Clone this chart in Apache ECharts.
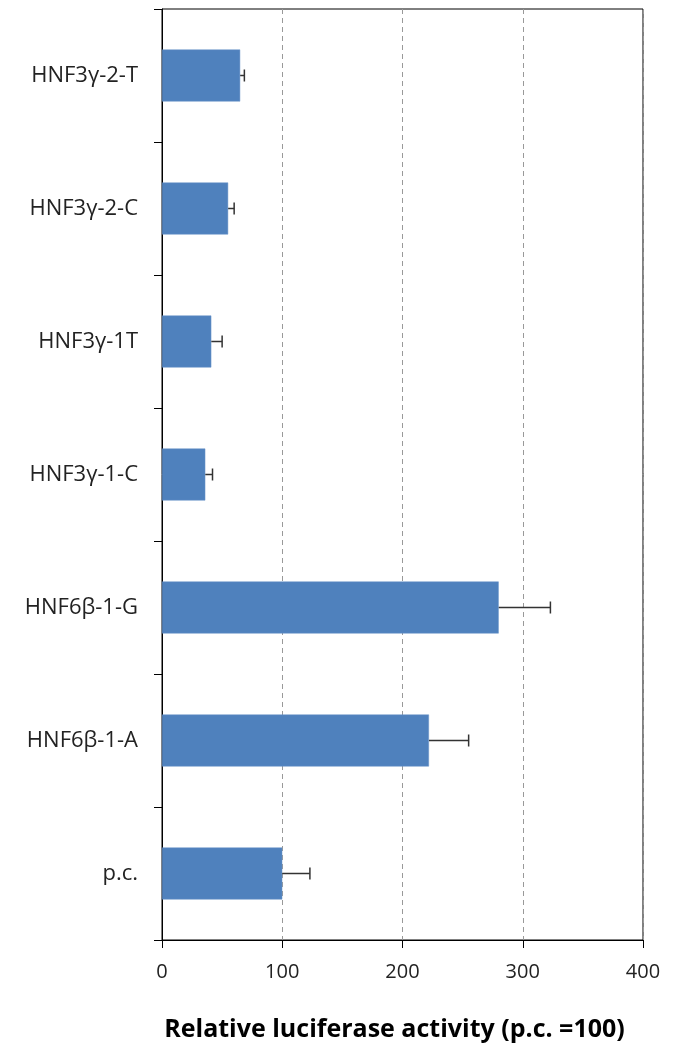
<!DOCTYPE html>
<html>
<head>
<meta charset="utf-8">
<script src="https://cdn.jsdelivr.net/npm/echarts@6/dist/echarts.min.js"></script>
<style>
  html, body { margin: 0; padding: 0; background: #fff; }
  #chart { width: 678px; height: 1044px; }
</style>
</head>
<body>
<div id="chart"></div>
<script>
// categories listed bottom to top
var categories = ['p.c.', 'HNF6β-1-A', 'HNF6β-1-G', 'HNF3γ-1-C', 'HNF3γ-1T', 'HNF3γ-2-C', 'HNF3γ-2-T'];
var activity = [100, 222, 280, 36, 41, 55, 65];
var errors = [23, 33, 43, 6, 9, 5, 3.5];
var xTicks = [0, 100, 200, 300, 400];

var chart = echarts.init(document.getElementById('chart'));

var errorData = activity.map(function (v, i) {
    return [i, v, v + errors[i]];
});

var option = {
    animation: false,
    grid: {
        left: 162,
        right: 35,
        top: 9,
        bottom: 104,
        outerBoundsMode: 'none',
        show: true,
        borderColor: '#000',
        borderWidth: 1
    },
    xAxis: {
        type: 'value',
        min: xTicks[0],
        max: xTicks[xTicks.length - 1],
        interval: 100,
        name: 'Relative luciferase activity (p.c. =100)',
        nameLocation: 'middle',
        nameGap: 77,
        nameTextStyle: {
            fontFamily: 'Open Sans',
            fontWeight: 'bold',
            fontSize: 25,
            color: '#000',
            padding: [0, 16, 0, 0]
        },
        axisLine: { show: true, lineStyle: { color: '#000', width: 1 } },
        axisTick: { show: true, length: 8, lineStyle: { color: '#000' } },
        axisLabel: {
            margin: 22,
            fontFamily: 'Open Sans',
            fontSize: 20,
            color: '#222'
        },
        splitLine: {
            show: true,
            lineStyle: { color: '#999', type: [5, 4], width: 1 }
        }
    },
    yAxis: {
        type: 'category',
        data: categories,
        axisLine: { show: true, lineStyle: { color: '#000', width: 1 } },
        axisTick: { show: true, length: 8, lineStyle: { color: '#000' } },
        axisLabel: {
            margin: 24,
            fontFamily: 'Open Sans',
            fontSize: 22,
            color: '#222'
        },
        splitLine: { show: false }
    },
    series: [
        {
            type: 'bar',
            data: activity,
            barWidth: 52,
            itemStyle: { color: '#4F81BD', borderColor: '#6B95C8', borderWidth: 0.5 }
        },
        {
            type: 'custom',
            data: errorData,
            z: 5,
            renderItem: function (params, api) {
                var cat = api.value(0);
                var start = api.coord([api.value(1), cat]);
                var end = api.coord([api.value(2), cat]);
                var cap = 6;
                var style = { stroke: '#333', lineWidth: 1.5 };
                return {
                    type: 'group',
                    children: [
                        { type: 'line', shape: { x1: start[0], y1: start[1], x2: end[0], y2: end[1] }, style: style },
                        { type: 'line', shape: { x1: end[0], y1: end[1] - cap, x2: end[0], y2: end[1] + cap }, style: style }
                    ]
                };
            }
        }
    ]
};

chart.setOption(option);
</script>
</body>
</html>
